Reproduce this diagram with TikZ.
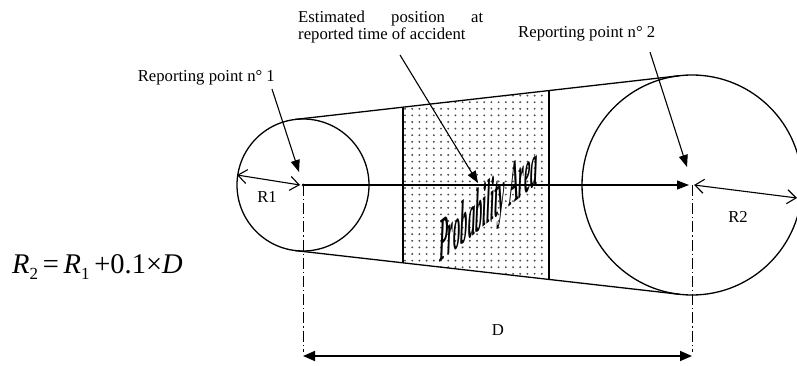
\documentclass[tikz,border=0pt]{standalone}
\usepackage{fontspec}
\setmainfont{Liberation Serif}
\usetikzlibrary{arrows.meta,calc}
\begin{document}
\begin{tikzpicture}[x=1pt,y=-1pt,
  thick line/.style={line width=1.3pt},
  fillhead/.style={-{Triangle[length=12pt,width=9pt]}},
  bothfill/.style={{Triangle[length=12pt,width=10pt]}-{Triangle[length=12pt,width=10pt]}},
  openheads/.style={{Straight Barb[length=9pt,width=14pt]}-{Straight Barb[length=9pt,width=14pt]}},
  lbl/.style={font=\fontsize{16.7}{16.5}\selectfont, inner sep=0pt},
  dashdot/.style={line width=0.9pt, dash pattern=on 11pt off 3pt on 1.2pt off 3pt}]
\useasboundingbox (0,0) rectangle (797,366);
\fill[white] (0,0) rectangle (797,366);

% key points
\coordinate (c1) at (303,185);
\coordinate (c2) at (692,185);
\coordinate (t1u) at (295.5,119.4);
\coordinate (t2u) at (679.6,75.7);
\coordinate (t1l) at (295.5,250.6);
\coordinate (t2l) at (679.6,294.3);
\coordinate (pul) at (403,107.2);
\coordinate (pur) at (549,90.6);
\coordinate (pll) at (403,262.8);
\coordinate (plr) at (549,279.4);

% dotted probability area
\begin{scope}
  \clip (pul) -- (pur) -- (plr) -- (pll) -- cycle;
  \foreach \i in {0,...,20}
    \foreach \j in {0,...,30}
      \fill[black!70] (405+7.2*\i, 89+6.6*\j) circle[radius=1.05];
\end{scope}
\draw[thick line] (pul) -- (pll);
\draw[thick line] (pur) -- (plr);

% circles and tangents
\draw[thick line] (c1) circle[radius=66];
\draw[thick line] (c2) circle[radius=110];
\draw[thick line] (t1u) -- (t2u);
\draw[thick line] (t1l) -- (t2l);

% centre line
\coordinate (c2tip) at (689,185);
\draw[line width=1.1pt, fillhead] (c1) -- (c2tip);
\fill (c1) circle[radius=1.5];

% radii
\coordinate (r1end) at (237,175);
\coordinate (r1c) at (300,185);
\draw[line width=1.1pt, openheads] (r1end) -- (r1c);
\coordinate (r2c) at (694,185);
\coordinate (r2end) at (797,198);
\draw[line width=1.1pt, openheads] (r2c) -- (r2end);
\node[lbl] (lr1) at (267,197) {R1};
\node[lbl] (lr2) at (738,217) {R2};

% dash-dot verticals and D
\coordinate (v1) at (303,352);
\coordinate (v2) at (692,352);
\draw[dashdot] (c1) -- (v1);
\draw[dashdot] (c2) -- (v2);
\coordinate (d1) at (303,356);
\coordinate (d2) at (692,356);
\draw[line width=1.6pt, bothfill] (d1) -- (d2);
\node[lbl] (ld) at (498,330) {D};

% labels with arrows
\node[lbl, anchor=base east] (rp1) at (275,82) {Reporting point n° 1};
\node[lbl, anchor=base west] (rp2) at (518,38) {Reporting point n° 2};
\node[lbl, anchor=north west, align=left] (est) at (298,11)
  {\makebox[185pt][s]{Estimated\hfill position\hfill at}\\reported time of accident};

\coordinate (a1s) at (272,89);  \coordinate (a1e) at (299,172);
\coordinate (a2s) at (400,55);  \coordinate (a2e) at (478,183);
\coordinate (a3s) at (650,52);  \coordinate (a3e) at (687,167);
\draw[line width=1.1pt, fillhead] (a1s) -- (a1e);
\draw[line width=1.1pt, fillhead] (a2s) -- (a2e);
\draw[line width=1.1pt, fillhead] (a3s) -- (a3e);

% probability area text
\node[font=\fontsize{62}{62}\selectfont\bfseries\itshape, inner sep=0pt, anchor=base west,
      yslant=0.8, xscale=0.235] (pa) at (439,263) {Probability Area};

% formula
\node[font=\fontsize{28.5}{28.5}\selectfont, anchor=base west, inner sep=0pt] (eq) at (12,273)
  {\textit{R}\raisebox{-0.22em}{\fontsize{17}{17}\selectfont 2}\,=\,\textit{R}\raisebox{-0.22em}{\fontsize{17}{17}\selectfont 1}\,+0.1×\textit{D}};
\end{tikzpicture}
\end{document}
